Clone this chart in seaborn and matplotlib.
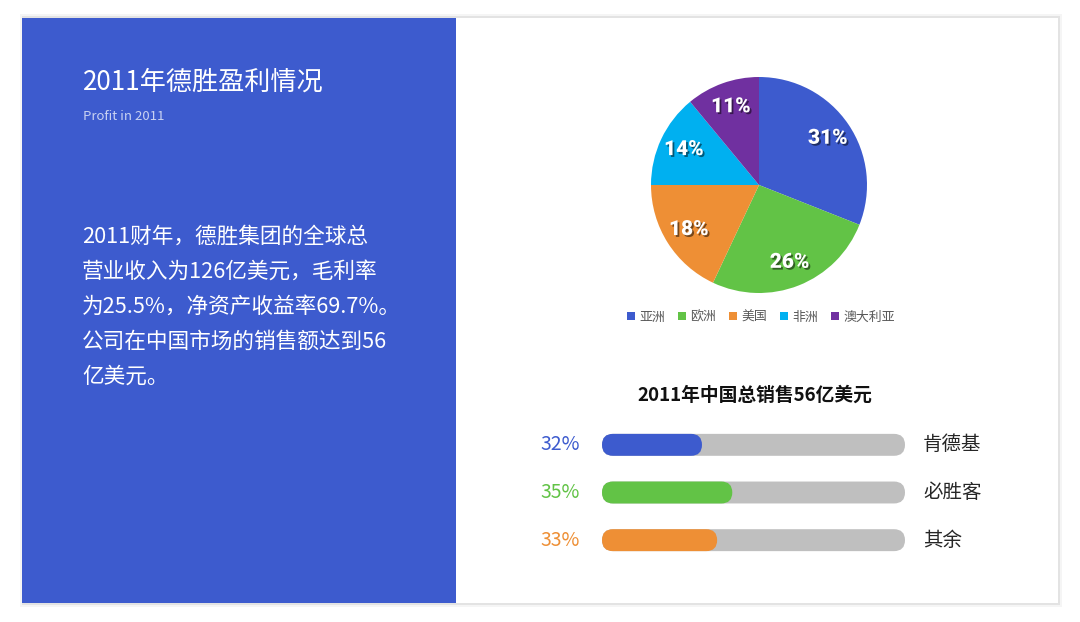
import numpy as np
import pandas as pd
import matplotlib
matplotlib.use("Agg")
import matplotlib.pyplot as plt
import matplotlib.patheffects as pe
from matplotlib.patches import FancyBboxPatch, Rectangle
import seaborn as sns

sns.set_style("white")
plt.rcParams['font.family'] = ['Noto Sans CJK SC', 'DejaVu Sans']

# Data
regions = ['亚洲', '欧洲', '美国', '非洲', '澳大利亚']
region_share = [31, 26, 18, 14, 11]
region_colors = ['#3D5BCE', '#62C346', '#EE8F35', '#00B0F0', '#7030A0']

brands = ['肯德基', '必胜客', '其余']
brand_share = [32, 35, 33]          # labels shown at left
brand_fill = [33, 43, 38]           # filled length of each track
brand_colors = ['#3D5BCE', '#62C346', '#EE8F35']
track_max = 100

body_lines = ['2011财年，德胜集团的全球总',
              '营业收入为126亿美元，毛利率',
              '为25.5%，净资产收益率69.7%。',
              '公司在中国市场的销售额达到56',
              '亿美元。']

W, H = 1080, 622
fig = plt.figure(figsize=(W / 100, H / 100), dpi=100)
fig.patch.set_facecolor('white')

def fx(px):
    return px / W

def fy(py):
    return 1 - py / H

# card shadow, card and left panel (behind the axes)
for off, a in [(4, 0.04), (2, 0.07)]:
    fig.patches.append(Rectangle((fx(22 - off + 2), fy(603 + off)), fx(1036 + 2 * off - 2), (585 + 2 * off) / H,
                                 transform=fig.transFigure, fc='black', alpha=a, ec='none', zorder=-5))
fig.patches.append(Rectangle((fx(22), fy(603)), fx(1036), 585 / H, transform=fig.transFigure,
                             fc='white', ec='none', zorder=-4))
fig.patches.append(Rectangle((fx(22), fy(603)), fx(434), 585 / H, transform=fig.transFigure,
                             fc='#3D5BCE', ec='none', zorder=-3))

# left texts
fig.text(fx(83), fy(82), '2011年德胜盈利情况', color='white', fontsize=18.8, va='center', ha='left')
fig.text(fx(83), fy(117), 'Profit in 2011', color='#C9D2F2', fontsize=9.5, weight='light',
         va='center', ha='left')
for i, line in enumerate(body_lines):
    fig.text(fx(82), fy(237 + 34.8 * i), line, color='white', fontsize=15.6, va='center', ha='left')

# pie chart
cx, cy, r = 759, 185, 108
ax_pie = fig.add_axes([fx(cx - r), fy(cy + r), fx(2 * r), 2 * r / H])
pal = sns.color_palette(region_colors)
wedges, _, autotexts = ax_pie.pie(region_share, colors=pal, startangle=90, counterclock=False,
                                  autopct='%d%%', pctdistance=0.77,
                                  wedgeprops=dict(linewidth=0))
for t in autotexts:
    t.set_color('white')
    t.set_fontsize(15)
    t.set_fontweight('black')
    t.set_fontfamily(['Roboto', 'DejaVu Sans'])
    t.set_path_effects([pe.withSimplePatchShadow(offset=(1.3, -1.3), shadow_rgbFace='black', alpha=0.5)])
ax_pie.set_xlim(-1, 1)
ax_pie.set_ylim(-1, 1)
ax_pie.set_aspect('equal')
ax_pie.axis('off')

fig.legend(wedges, regions, loc='center', bbox_to_anchor=(fx(761), fy(317)), ncol=5, frameon=False,
           fontsize=9.3, handlelength=0.6, handleheight=0.6, handletextpad=0.35, columnspacing=1.0,
           labelcolor='#595959')

# progress bars
fig.text(fx(755), fy(395), '2011年中国总销售56亿美元', fontsize=13.5, weight='bold', color='#111111',
         ha='center', va='center')

bx0, bx1 = 602, 905
by_top, by_bot = 421, 564
ax_bar = fig.add_axes([fx(bx0), fy(by_bot), fx(bx1 - bx0), (by_bot - by_top) / H])
df = pd.DataFrame({'brand': brands, 'share': brand_share, 'fill': brand_fill,
                   'track': [track_max] * len(brands)})
bar_h = 0.46
sns.barplot(data=df, x='track', y='brand', color='#BFBFBF', width=bar_h, ax=ax_bar, saturation=1)
sns.barplot(data=df, x='fill', y='brand', hue='brand', palette=brand_colors, width=bar_h,
            ax=ax_bar, legend=False, saturation=1)
ax_bar.set_xlim(0, track_max)
ax_bar.set_ylim(len(brands) - 0.5, -0.5)

px_per_x = (bx1 - bx0) / track_max
px_per_y = (by_bot - by_top) / len(brands)
aspect = px_per_x / px_per_y
rad = bar_h * px_per_y / 2 / px_per_x
for p in list(ax_bar.patches):
    rp = FancyBboxPatch((p.get_x(), p.get_y()), p.get_width(), p.get_height(),
                        boxstyle=f'round,pad=0,rounding_size={rad}', mutation_aspect=aspect,
                        fc=p.get_facecolor(), ec='none', zorder=p.get_zorder())
    p.remove()
    ax_bar.add_patch(rp)

for i, (b, s, c) in enumerate(zip(brands, brand_share, brand_colors)):
    ax_bar.text(-7.3, i, f'{s}%', color=c, fontsize=14, weight='light', ha='right', va='center')
    ax_bar.text(106, i, b, color='#262626', fontsize=14, ha='left', va='center')

ax_bar.axis('off')

fig.savefig('out.png', dpi=100)
